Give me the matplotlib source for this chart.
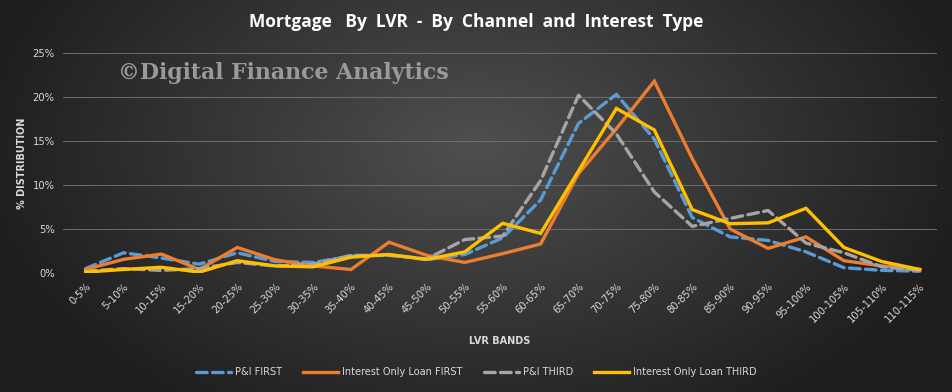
import numpy as np
import matplotlib.pyplot as plt
from matplotlib.ticker import FuncFormatter

# ------------------------------------------------------------
# data (% of loans)
# ------------------------------------------------------------
lvr_bands = ["0-5%", "5-10%", "10-15%", "15-20%", "20-25%", "25-30%", "30-35%",
             "35-40%", "40-45%", "45-50%", "50-55%", "55-60%", "60-65%", "65-70%",
             "70-75%", "75-80%", "80-85%", "85-90%", "90-95%", "95-100%",
             "100-105%", "105-110%", "110-115%"]

pi_first = [0.5, 2.3, 1.7, 1.0, 2.3, 1.3, 1.2, 1.9, 2.1, 1.5, 2.1, 4.0, 8.3,
            17.0, 20.3, 15.2, 6.3, 4.1, 3.7, 2.4, 0.6, 0.3, 0.2]
io_first = [0.4, 1.55, 2.15, 0.4, 2.9, 1.5, 0.8, 0.4, 3.5, 2.0, 1.2, 2.2, 3.3,
            11.3, 16.4, 21.8, 13.0, 5.0, 2.8, 4.1, 1.4, 0.8, 0.4]
pi_third = [0.2, 0.5, 0.3, 0.5, 1.2, 0.8, 1.0, 2.0, 2.0, 1.6, 3.8, 4.2, 10.5,
            20.2, 15.8, 9.2, 5.3, 6.2, 7.1, 3.4, 2.3, 0.7, 0.3]
io_third = [0.1, 0.4, 0.65, 0.1, 1.4, 0.8, 0.7, 1.8, 2.1, 1.55, 2.4, 5.65, 4.5,
            11.6, 18.7, 16.25, 7.2, 5.6, 5.7, 7.35, 2.9, 1.3, 0.4]

series_names = ["P&I FIRST", "Interest Only Loan FIRST", "P&I THIRD", "Interest Only Loan THIRD"]
series_colors = ["#5B9BD5", "#ED7D31", "#A5A5A5", "#FFC000"]

# ------------------------------------------------------------
# figure + gradient background
# ------------------------------------------------------------
fig = plt.figure(figsize=(9.53, 3.92), dpi=100)

bg_ax = fig.add_axes([0, 0, 1, 1], zorder=-10)
gx, gy = np.meshgrid(np.linspace(-1, 1, 400), np.linspace(-1, 1, 200))
r = np.sqrt(((gx - 0.0) / 1.05) ** 2 + ((gy + 0.25) / 1.6) ** 2)
r = np.clip(r, 0, 1)
shade = 0.31 - 0.19 * r
bg_ax.imshow(np.dstack([shade, shade, shade]), aspect="auto", extent=[0, 1, 0, 1])
bg_ax.axis("off")

ax = fig.add_axes([0.066, 0.3036, 0.917, 0.5612])
ax.patch.set_alpha(0)

x = np.arange(len(lvr_bands))
all_series = [pi_first, io_first, pi_third, io_third]
dashed = [True, False, True, False]

for vals, name, col, ds in zip(all_series, series_names, series_colors, dashed):
    v = np.array(vals) / 100
    if ds:
        ax.plot(x, v, color=col, lw=2.4, linestyle=(0, (3.2, 1.6)),
                dash_capstyle="round", label=name, zorder=3)
    else:
        ax.plot(x, v, color=col, lw=2.4, label=name, zorder=3,
                solid_joinstyle="miter")

ax.set_ylim(0, 0.25)
ax.set_xlim(-0.6, 22.45)
ax.set_yticks(np.arange(0, 0.26, 0.05))
ax.yaxis.set_major_formatter(FuncFormatter(lambda v, p: f"{v * 100:.0f}%"))
ax.set_xticks(x)
ax.set_xticklabels(lvr_bands, rotation=45, ha="right", rotation_mode="anchor")

ax.grid(axis="y", color="#6e6e6e", lw=0.7)
ax.set_axisbelow(True)
for sp in ax.spines.values():
    sp.set_visible(False)
ax.tick_params(axis="both", length=0, colors="#d9d9d9", labelsize=7.2)
ax.tick_params(axis="x", pad=6)
ax.tick_params(axis="y", pad=6)

ax.set_xlabel("LVR BANDS", color="#d9d9d9", fontsize=7, fontweight="bold", labelpad=8)
ax.set_ylabel("% DISTRIBUTION", color="#d9d9d9", fontsize=7, fontweight="bold", labelpad=4)

# title + watermark
fig.text(0.5, 0.945, "Mortgage   By  LVR  -  By  Channel  and  Interest  Type",
         ha="center", va="center", color="white", fontsize=12.5, fontweight="bold",
         family="Open Sans")
fig.text(0.124, 0.813, "\u00a9Digital Finance Analytics", ha="left", va="center",
         color="#9a9a9a", fontsize=15.8, fontweight="bold", family="DejaVu Serif")

leg = fig.legend(loc="center", bbox_to_anchor=(0.5, 0.051), ncol=4, frameon=False,
                 fontsize=7.0, handlelength=3.6, columnspacing=2.2, handletextpad=0.4)
for t in leg.get_texts():
    t.set_color("#d9d9d9")

fig.savefig("out.png", dpi=100)
